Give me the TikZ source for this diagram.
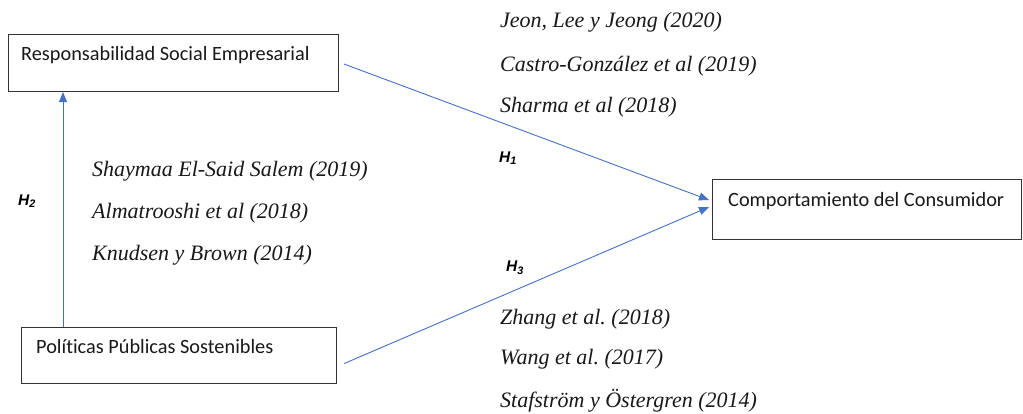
\documentclass[tikz,border=0pt]{standalone}
\usepackage{fontspec}
\setmainfont{Liberation Serif}
\newfontfamily\boxfont[Ligatures=NoCommon]{Carlito}
\newfontfamily\hfont{Liberation Sans}
\usetikzlibrary{arrows.meta}
\definecolor{linkblue}{HTML}{4472C4}
\definecolor{boxgray}{HTML}{333333}
\frenchspacing
\tikzset{
  box/.style={draw=boxgray, line width=1.1pt, rectangle, inner sep=0pt, anchor=north west},
  boxlabel/.style={anchor=base west, inner sep=0pt, font=\boxfont\fontsize{20.3}{23}\selectfont, text=black!90},
  ref/.style={anchor=base west, inner sep=0pt, font=\itshape\fontsize{22}{25}\selectfont, text=black!90},
  hyp/.style={anchor=center, inner sep=0pt, font=\hfont\bfseries\itshape\fontsize{15.5}{18}\selectfont},
  link/.style={draw=linkblue, line width=0.9pt, -{Triangle[length=10pt,width=8pt]}},
}
\begin{document}
\begin{tikzpicture}[x=1pt,y=-1pt]
  \useasboundingbox (0,0) rectangle (1023,413);
  \fill[white] (0,0) rectangle (1023,413);

  % constructs
  \node[box, minimum width=330pt, minimum height=57pt] (rse) at (8,34) {};
  \node[boxlabel] (rsetext) at (21,60) {Responsabilidad Social Empresarial};

  \node[box, minimum width=315pt, minimum height=56pt] (pps) at (21,327) {};
  \node[boxlabel] (ppstext) at (36,353) {Políticas Públicas Sostenibles};

  \node[box, minimum width=309pt, minimum height=60pt] (cc) at (712,179) {};
  \node[boxlabel] (cctext) at (728,206) {Comportamiento del Consumidor};

  % hypotheses
  \coordinate (h1end) at (709,200);
  \coordinate (h3end) at (709,207);
  \draw[link] ([xshift=5pt,yshift=-1pt]rse.east) -- (h1end);
  \draw[link] ([xshift=7pt,yshift=-8pt]pps.east) -- (h3end);
  \draw[link] (pps.north -| 63,0) -- (rse.south -| 63,0);

  \node[hyp] (h1) at (508,158) {H\textsubscript{1}};
  \node[hyp] (h2) at (27,201) {H\textsubscript{2}};
  \node[hyp] (h3) at (515,268) {H\textsubscript{3}};

  % supporting references
  \node[ref] (r1) at (500,27) {Jeon, Lee y Jeong (2020)};
  \node[ref] (r2) at (500,71) {Castro-González et al (2019)};
  \node[ref] (r3) at (500,112) {Sharma et al (2018)};

  \node[ref] (r4) at (92,176) {Shaymaa El-Said Salem (2019)};
  \node[ref] (r5) at (92,218) {Almatrooshi et al (2018)};
  \node[ref] (r6) at (92,260) {Knudsen y Brown (2014)};

  \node[ref] (r7) at (500,324) {Zhang et al. (2018)};
  \node[ref] (r8) at (500,364) {Wang et al. (2017)};
  \node[ref] (r9) at (500,407) {Stafström y Östergren (2014)};
\end{tikzpicture}
\end{document}
